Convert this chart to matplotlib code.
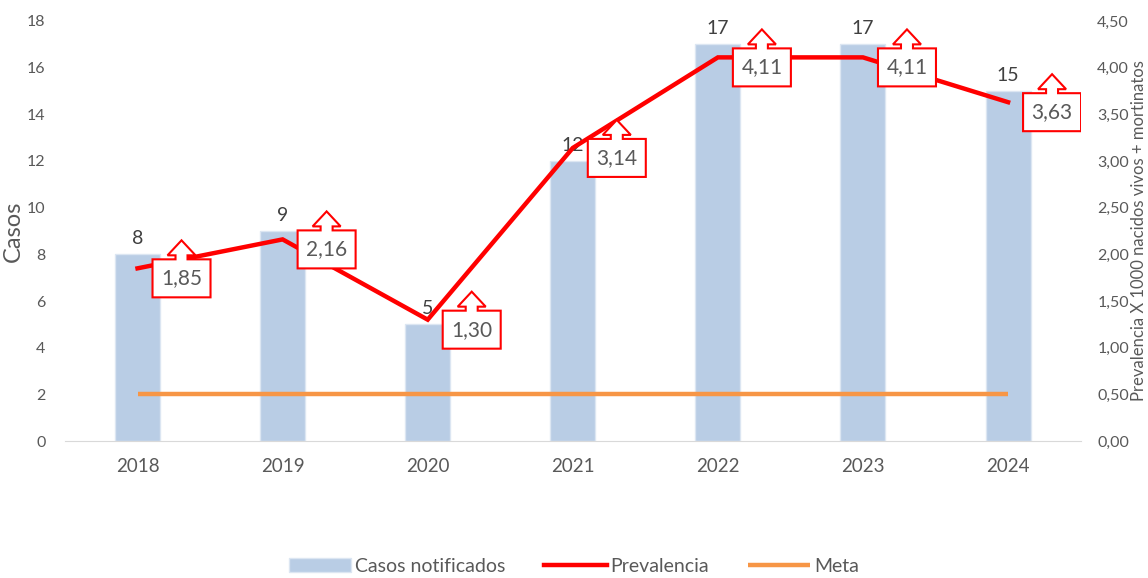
import matplotlib
matplotlib.use("Agg")
from matplotlib import pyplot as plt
from matplotlib import rcParams
from matplotlib.patches import Polygon
import matplotlib.transforms as mtransforms

years = ['2018', '2019', '2020', '2021', '2022', '2023', '2024']
casos = [8, 9, 5, 12, 17, 17, 15]
prevalencia = [1.85, 2.16, 1.30, 3.14, 4.11, 4.11, 3.63]
meta = [0.5, 0.5, 0.5, 0.5, 0.5, 0.5, 0.5]

gray = '#595959'
rcParams['font.family'] = ['Lato', 'DejaVu Sans']
rcParams['text.color'] = gray

fig = plt.figure(figsize=(11.48, 5.78), dpi=100)
ax = fig.add_axes([0.0566, 0.237, 0.8847, 0.7267])
ax2 = ax.twinx()

x = list(range(len(years)))
ax.bar(x, casos, width=0.31, color='#B9CDE5', edgecolor='#DCE6F2',
       linewidth=1.0, label='Casos notificados', zorder=2)
for xi, c in zip(x, casos):
    ax.annotate(str(c), (xi, c), xytext=(0, 5), textcoords='offset points',
                ha='center', va='bottom', fontsize=14, color='#404040')

ax.set_xlim(-0.5, len(years) - 0.5)
ax.set_ylim(0, 18)
ax.set_yticks(range(0, 19, 2))
ax.set_xticks(x)
ax.set_xticklabels(years, fontsize=13.5, color=gray)
ax.tick_params(axis='y', length=0, pad=14, labelsize=11.5, labelcolor=gray)
ax.tick_params(axis='x', length=0, pad=12)
ax.set_ylabel('Casos', fontsize=17, color=gray, labelpad=2)
for s in ['top', 'right', 'left']:
    ax.spines[s].set_visible(False)
    ax2.spines[s].set_visible(False)
ax2.spines['bottom'].set_visible(False)
ax.spines['bottom'].set_color('#D9D9D9')

ax2.plot(x, meta, color='#F79646', linewidth=3.2, label='Meta', zorder=3,
         solid_capstyle='butt')
ax2.plot(x, prevalencia, color='#FF0000', linewidth=3.2, label='Prevalencia',
         zorder=4, solid_joinstyle='miter')
ax2.set_ylim(0, 4.5)
ax2.set_yticks([i * 0.5 for i in range(10)])
ax2.set_yticklabels(['{:.2f}'.format(i * 0.5).replace('.', ',') for i in range(10)])
ax2.tick_params(axis='y', length=0, pad=12, labelsize=11.5, labelcolor=gray)
ax2.set_ylabel('Prevalencia X 1000 nacidos vivos + mortinatos', fontsize=12,
               color=gray, labelpad=1)

# up-arrow callouts, outline in pixels relative to the point (y up)
shape = [(15, 9), (38, 9), (38, 13), (30, 13), (44, 28), (58, 13), (50, 13),
         (50, 9), (73, 9), (73, -29), (15, -29)]
for xi, p in zip(x, prevalencia):
    tr = mtransforms.Affine2D().scale(fig.dpi / 100.0) + \
        mtransforms.ScaledTranslation(xi, p, ax2.transData)
    poly = Polygon(shape, closed=True, facecolor='white', edgecolor='#FF0000',
                   linewidth=1.5, transform=tr, zorder=5)
    ax2.add_patch(poly)
    ax2.annotate('{:.2f}'.format(p).replace('.', ','), (xi, p),
                 xytext=(44 * 0.72, -10 * 0.72), textcoords='offset points',
                 ha='center', va='center', fontsize=15, color=gray, zorder=6)

h1, l1 = ax.get_legend_handles_labels()
h2, l2 = ax2.get_legend_handles_labels()
handles = [h1[0], h2[1], h2[0]]
labels = [l1[0], l2[1], l2[0]]
fig.legend(handles, labels, loc='lower center', bbox_to_anchor=(0.5, -0.025),
           ncol=3, frameon=False, fontsize=14, handlelength=3.2,
           columnspacing=2.0, handletextpad=0.2, labelcolor=gray)

fig.savefig('out.png', dpi=100)
